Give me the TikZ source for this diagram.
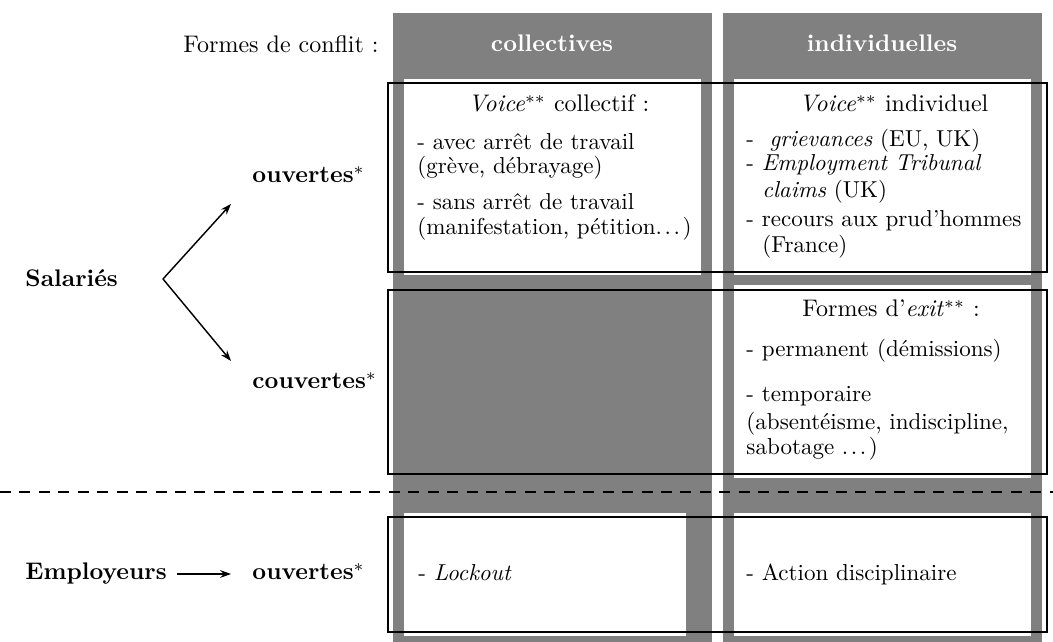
\documentclass[tikz,border=0pt]{standalone}
\usepackage{graphicx}
\usetikzlibrary{arrows.meta}
\newcommand{\spdots}{.\kern1.1pt.\kern1.1pt.\kern1.1pt}
\newcommand{\bodytxt}[1]{\scalebox{0.96}{#1}}
\begin{document}
\begin{tikzpicture}[x=0.41667pt,y=-0.41667pt,
  colfill/.style={fill=gray},
  wbox/.style={fill=white},
  rowbox/.style={draw=black,line width=0.5pt},
  txt/.style={anchor=base west,inner sep=0pt},
  hdr/.style={anchor=base,inner sep=0pt,text=white,font=\bfseries},
  arr/.style={-{Stealth[length=4.5pt,width=3.2pt]},line width=0.6pt},
  sep/.style={dashed,dash pattern=on 4.6pt off 3.5pt,line width=0.6pt}]
\useasboundingbox (0,0) rectangle (1053,642);
% grey columns
\fill[colfill] (393,13) rectangle (712,642);
\fill[colfill] (723,13) rectangle (1042,642);
% white cells
\fill[wbox] (404,79) rectangle (701,275);
\fill[wbox] (734,79) rectangle (1031,275);
\fill[wbox] (734,285) rectangle (1031,478);
\fill[wbox] (404,513) rectangle (686,636);
\fill[wbox] (734,513) rectangle (1031,636);
% row frames
\draw[rowbox] (388,83) rectangle (1047,272);
\draw[rowbox] (388,290) rectangle (1047,474);
\draw[rowbox] (388,517) rectangle (1047,632);
% separator
\coordinate (sepL) at (0,492);
\coordinate (sepR) at (1053,492);
\draw[sep] (sepL) -- (sepR);
% headers
\node[txt] (formes) at (183,53) {Formes de conflit~:};
\node[hdr] (hcol) at (552,52) {collectives};
\node[hdr] (hind) at (882,52) {individuelles};
% left labels
\node[txt] (ouv1) at (252,183) {\textbf{ouvertes}$^*$};
\node[txt] (sal) at (25,287) {\textbf{Salariés}};
\node[txt] (couv) at (252,389) {\textbf{couvertes}$^*$};
\node[txt] (emp) at (25,580) {\textbf{Employeurs}};
\node[txt] (ouv2) at (252,580) {\textbf{ouvertes}$^*$};
% arrows
\coordinate (fork) at (163,279);
\coordinate (upend) at (231,204);
\coordinate (downend) at (231,361);
\coordinate (empstart) at (177,574);
\coordinate (empend) at (231,574);
\draw[arr] (fork) -- (upend);
\draw[arr] (fork) -- (downend);
\draw[arr] (empstart) -- (empend);
% row 1 left
\node[txt] (vc) at (468,112) {\textit{Voice}$^{**}$ collectif~:};
\node[txt] (vc1) at (417,150) {\bodytxt{- avec arrêt de travail}};
\node[txt] (vc2) at (417,174) {\bodytxt{(grève, débrayage)}};
\node[txt] (vc3) at (417,210) {\bodytxt{- sans arrêt de travail}};
\node[txt] (vc4) at (417,235) {\bodytxt{(manifestation, pétition\spdots)}};
% row 1 right
\node[txt] (vi) at (799,112) {\textit{Voice}$^{**}$ individuel};
\node[txt] (vi1) at (746,147) {\bodytxt{-~~\textit{grievances} (EU, UK)}};
\node[txt] (vi2) at (746,171) {\bodytxt{- \textit{Employment Tribunal}}};
\node[txt] (vi3) at (762,198) {\bodytxt{\textit{claims} (UK)}};
\node[txt] (vi4) at (746,227) {\bodytxt{- recours aux prud’hommes}};
\node[txt] (vi5) at (762,253) {\bodytxt{(France)}};
% row 2 right
\node[txt] (ex) at (802,317) {Formes d’\textit{exit}$^{**}$~:};
\node[txt] (ex1) at (746,357) {\bodytxt{- permanent (démissions)}};
\node[txt] (ex2) at (746,402) {\bodytxt{- temporaire}};
\node[txt] (ex3) at (746,430) {\bodytxt{(absentéisme, indiscipline,}};
\node[txt] (ex4) at (746,455) {\bodytxt{sabotage \spdots)}};
% row 3
\node[txt] (lock) at (418,581) {\bodytxt{- \textit{Lockout}}};
\node[txt] (disc) at (746,581) {\bodytxt{- Action disciplinaire}};
\end{tikzpicture}
\end{document}
